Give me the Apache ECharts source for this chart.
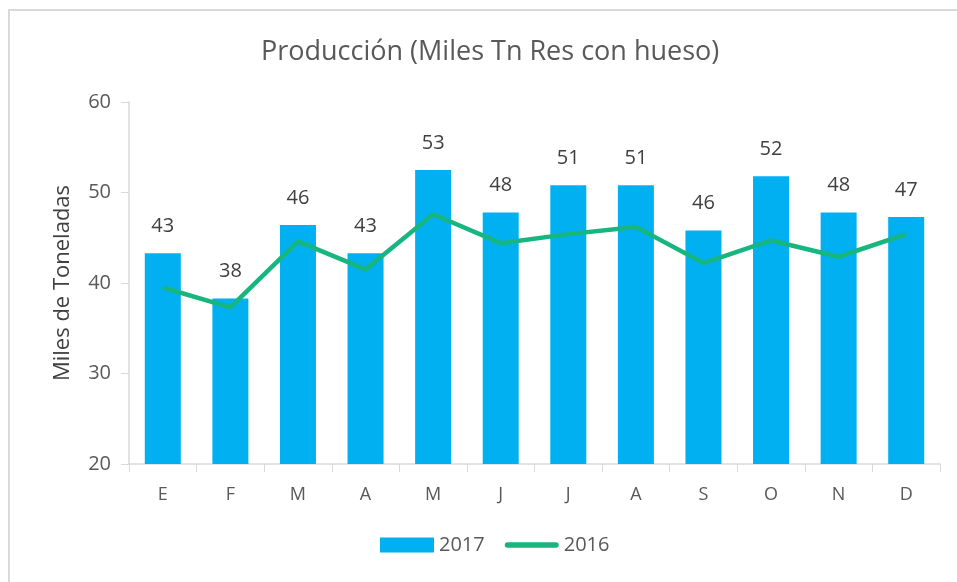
<!DOCTYPE html>
<html>
<head>
<meta charset="utf-8">
<script src="https://cdn.jsdelivr.net/npm/echarts@6/dist/echarts.min.js"></script>
<style>
  html, body { margin: 0; padding: 0; background: #fff; }
  #chart { width: 957px; height: 582px; }
</style>
</head>
<body>
<div id="chart"></div>
<script>
var meses = ['E', 'F', 'M', 'A', 'M', 'J', 'J', 'A', 'S', 'O', 'N', 'D'];
var prod2017 = [43.3, 38.3, 46.4, 43.3, 52.5, 47.8, 50.8, 50.8, 45.8, 51.8, 47.8, 47.3];
var prod2016 = [39.5, 37.3, 44.6, 41.5, 47.6, 44.4, 45.4, 46.2, 42.2, 44.7, 42.9, 45.4];

var myChart = echarts.init(document.getElementById('chart'));
var fuente = '"Open Sans", sans-serif';
var option = {
    animation: false,
    color: ['#00b0f0', '#17b67f'],
    title: {
        text: 'Producción (Miles Tn Res con hueso)',
        left: 256,
        top: 34,
        textStyle: { fontFamily: fuente, fontSize: 27, fontWeight: 'normal', color: '#595959' }
    },
    graphic: [{
        type: 'rect',
        shape: { x: 9, y: 10, width: 1000, height: 700 },
        style: { fill: 'none', stroke: '#d9d9d9', lineWidth: 2 },
        silent: true
    }],
    legend: {
        bottom: 22,
        left: 375,
        itemGap: 20,
        itemWidth: 54,
        itemHeight: 15,
        textStyle: { fontFamily: fuente, fontSize: 20, color: '#595959' },
        data: [
            { name: '2017', icon: 'rect' },
            { name: '2016', icon: 'path://M2,0 H38 A2,2 0 0 1 38,4 H2 A2,2 0 0 1 2,0 Z' }
        ]
    },
    grid: { left: 129, right: 17, top: 102, bottom: 118 },
    xAxis: {
        type: 'category',
        data: meses,
        axisLine: { lineStyle: { color: '#d9d9d9', width: 1.5 } },
        axisTick: { show: true, length: 8, lineStyle: { color: '#d9d9d9' } },
        axisLabel: { fontFamily: fuente, fontSize: 18, color: '#595959', margin: 22 }
    },
    yAxis: {
        type: 'value',
        min: 20,
        max: 60,
        interval: 10,
        name: 'Miles de Toneladas',
        nameLocation: 'middle',
        nameGap: 55,
        nameTextStyle: { fontFamily: fuente, fontSize: 22, color: '#404040' },
        axisLine: { show: true, lineStyle: { color: '#d9d9d9', width: 1.5 } },
        axisTick: { show: true, length: 8, lineStyle: { color: '#d9d9d9' } },
        splitLine: { show: false },
        axisLabel: { fontFamily: fuente, fontSize: 20, color: '#595959', margin: 18 }
    },
    series: [
        {
            name: '2017',
            type: 'bar',
            data: prod2017,
            barWidth: 36,
            label: {
                show: true,
                position: 'top',
                distance: 17,
                fontFamily: fuente,
                fontSize: 20,
                color: '#404040',
                formatter: function (p) { return Math.round(p.value); }
            }
        },
        {
            name: '2016',
            type: 'line',
            data: prod2016,
            symbol: 'none',
            lineStyle: { width: 4.5 }
        }
    ]
};
myChart.setOption(option);
</script>
</body>
</html>
